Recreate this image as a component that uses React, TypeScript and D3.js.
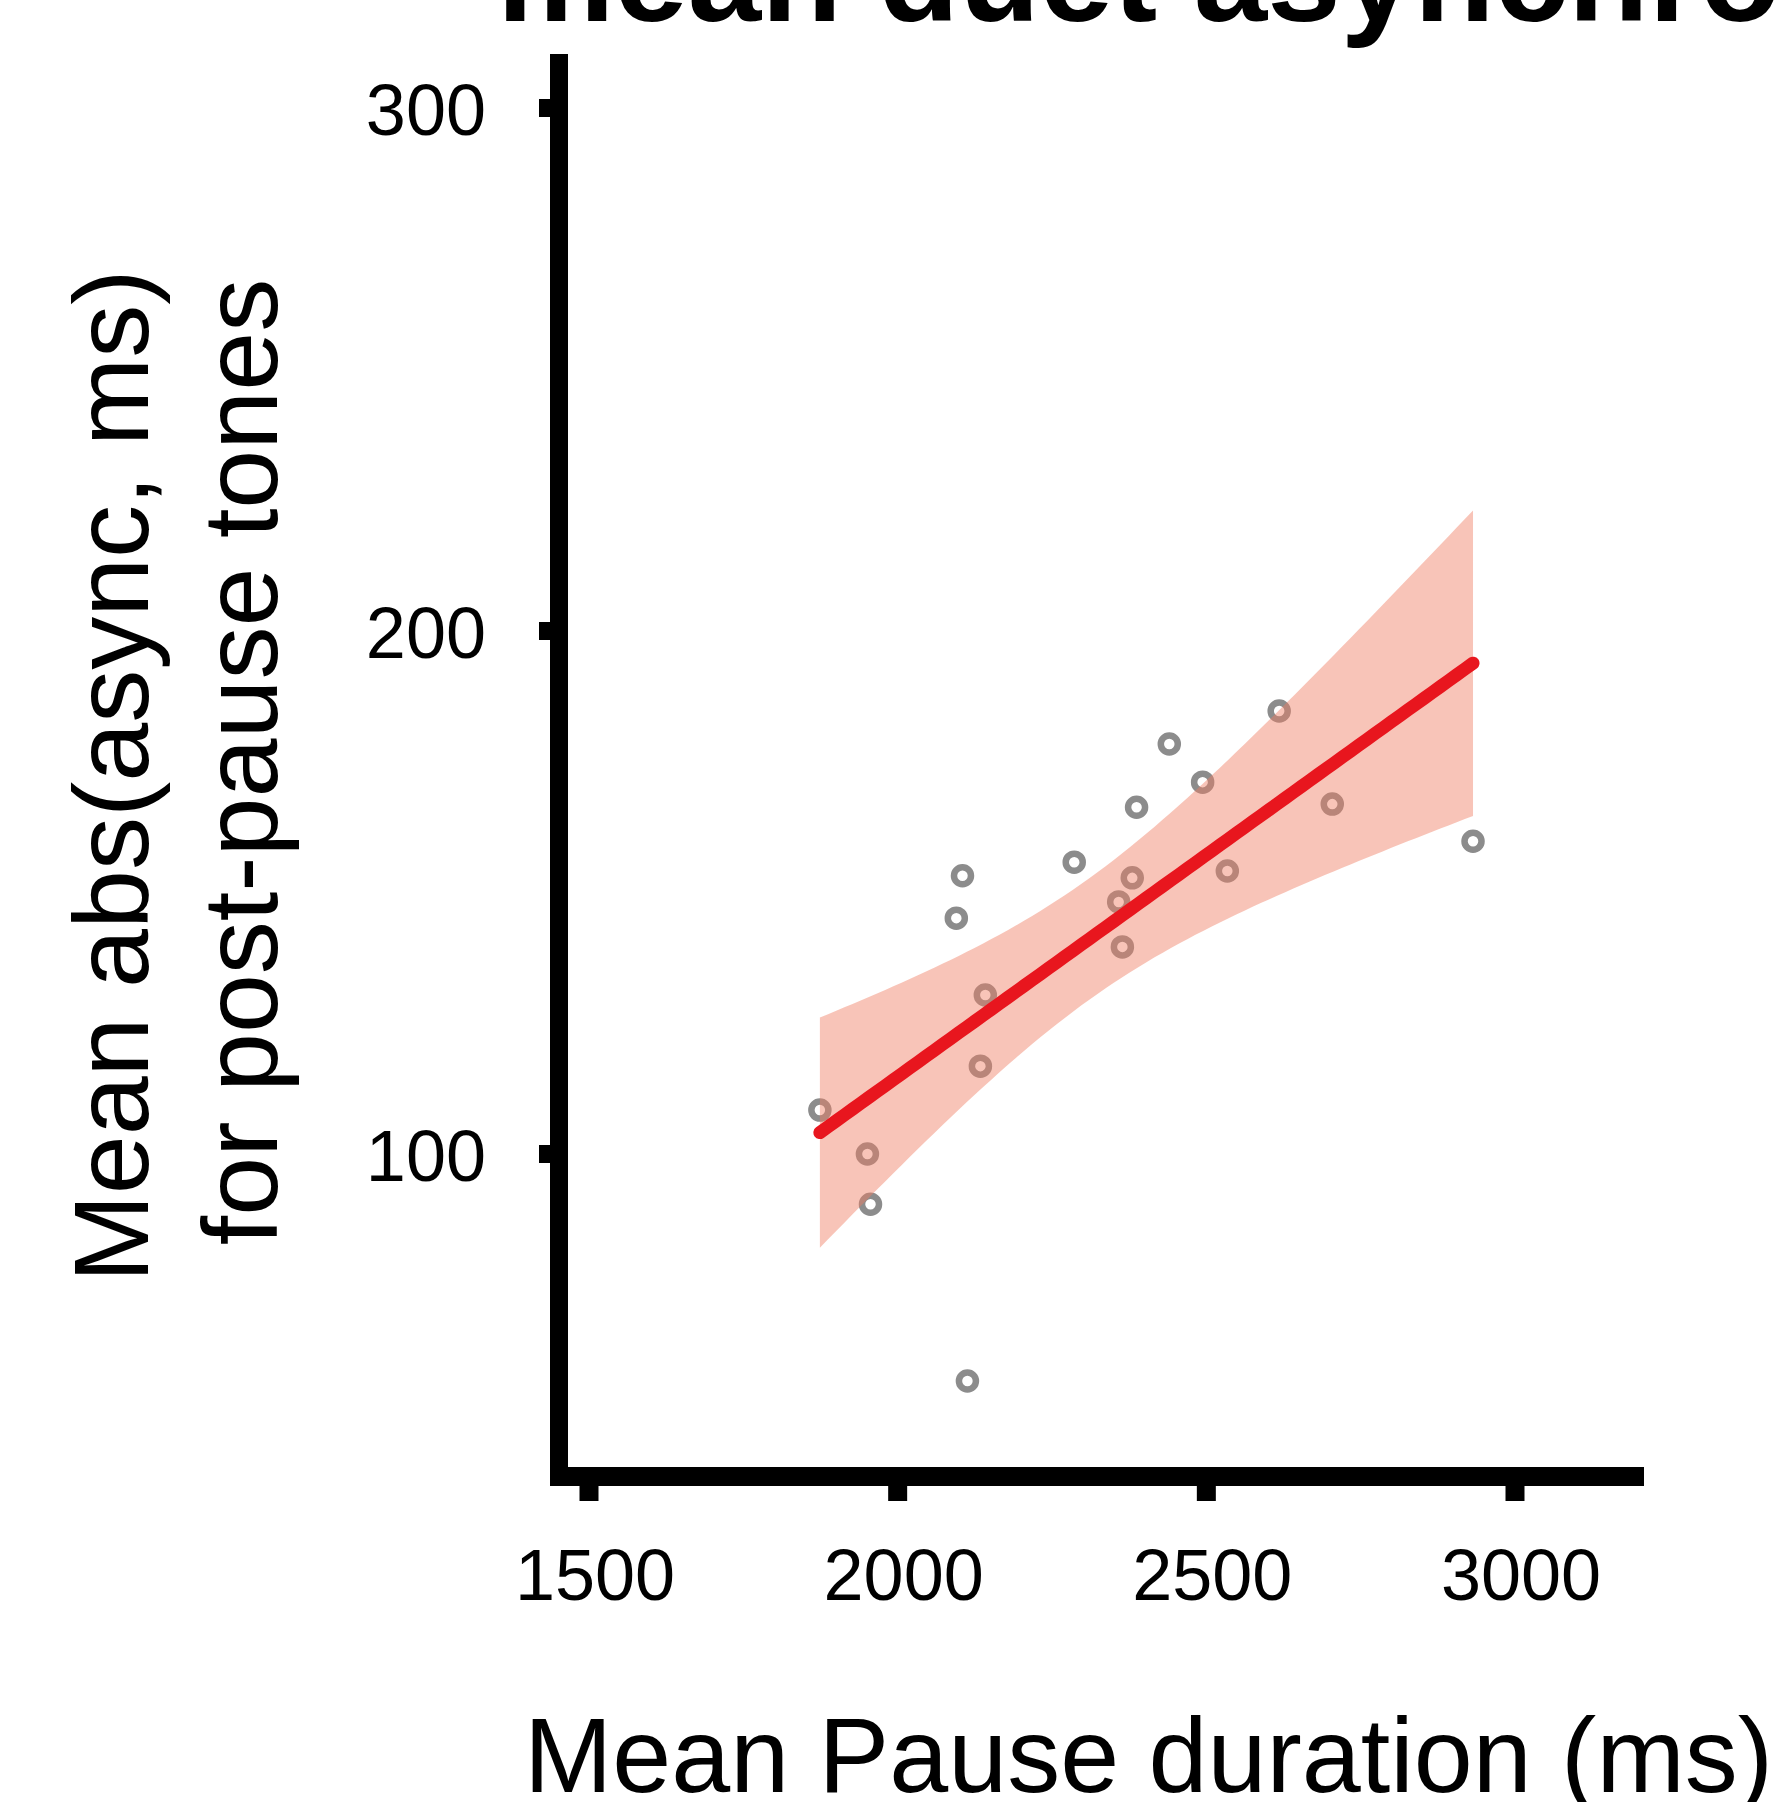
import React from 'react';
import * as d3 from 'd3';

// ---- data ----
const pauseDuration = [1874, 1951, 1956, 2095, 2105, 2134, 2142, 2113, 2286, 2358, 2380, 2364, 2387, 2440, 2494, 2534, 2618, 2704, 2932];
const meanAbsAsync = [108.4, 100.0, 90.4, 145.1, 153.2, 116.8, 130.4, 56.6, 155.8, 148.2, 152.8, 139.6, 166.3, 178.4, 171.1, 154.1, 184.7, 166.9, 159.8];
const xTicks = [1500, 2000, 2500, 3000];
const yTicks = [100, 200, 300];
const titleText = 'mean duet asynchrony';
const xLabel = 'Mean Pause duration (ms)';
const yLabelLines = ['Mean abs(async, ms)', 'for post-pause tones'];

const W = 1776;
const H = 1802;
const FONT = '"Liberation Sans", Arial, Helvetica, sans-serif';

export default function App() {
  const x = d3.scaleLinear().domain([1500, 3000]).range([589, 1515]);
  const y = d3.scaleLinear().domain([100, 300]).range([1154, 108]);

  const xMaxAxis = x.invert(1644);
  const yMaxAxis = y.invert(54);
  const yMinAxis = y.invert(1476);

  // linear fit with 95% confidence band (as geom_smooth(method = "lm"))
  const n = pauseDuration.length;
  const mx = d3.mean(pauseDuration) as number;
  const my = d3.mean(meanAbsAsync) as number;
  let sxx = 0;
  let sxy = 0;
  for (let i = 0; i < n; i++) {
    sxx += (pauseDuration[i] - mx) ** 2;
    sxy += (pauseDuration[i] - mx) * (meanAbsAsync[i] - my);
  }
  const slope = sxy / sxx;
  const intercept = my - slope * mx;
  let ssr = 0;
  for (let i = 0; i < n; i++) {
    ssr += (meanAbsAsync[i] - (intercept + slope * pauseDuration[i])) ** 2;
  }
  const s = Math.sqrt(ssr / (n - 2));
  const tCrit = 2.1098;
  const [x0, x1] = d3.extent(pauseDuration) as [number, number];
  const grid = d3.range(0, 81).map((i) => x0 + ((x1 - x0) * i) / 80);
  const band = grid.map((gx) => {
    const fit = intercept + slope * gx;
    const se = s * Math.sqrt(1 / n + (gx - mx) ** 2 / sxx);
    return { gx, fit, lo: fit - tCrit * se, hi: fit + tCrit * se };
  });

  const area = d3
    .area<{ gx: number; lo: number; hi: number }>()
    .x((d) => x(d.gx))
    .y0((d) => y(d.lo))
    .y1((d) => y(d.hi));
  const line = d3
    .line<{ gx: number; fit: number }>()
    .x((d) => x(d.gx))
    .y((d) => y(d.fit));

  const axisX = 559;
  const axisY = 1476.5;

  return (
    <svg
      width={W}
      height={H}
      viewBox={`0 0 ${W} ${H}`}
      style={{ position: 'absolute', left: 0, top: 0, background: '#fff' }}
      fontFamily={FONT}
    >
      <rect x={0} y={0} width={W} height={H} fill="#ffffff" />

      {/* title (clipped at the top of the figure, as in the reference) */}
      <text x={497} y={21} fontSize={132} fontWeight="bold" fill="#000">
        {titleText}
      </text>

      {/* points */}
      <g>
        {pauseDuration.map((px, i) => (
          <circle
            key={i}
            cx={x(px)}
            cy={y(meanAbsAsync[i])}
            r={8.5}
            fill="none"
            stroke="#8c8c8c"
            strokeWidth={6.5}
          />
        ))}
      </g>

      {/* confidence band */}
      <path d={area(band) || ''} fill="#ef7c61" fillOpacity={0.45} stroke="none" />
      {/* fit line */}
      <path d={line(band) || ''} fill="none" stroke="#e8161e" strokeWidth={13} strokeLinecap="round" />

      {/* y axis */}
      <line x1={axisX} x2={axisX} y1={y(yMaxAxis)} y2={y(yMinAxis) + 10} stroke="#000" strokeWidth={18} />
      {yTicks.map((t) => (
        <g key={t}>
          <line x1={539} x2={axisX} y1={y(t)} y2={y(t)} stroke="#000" strokeWidth={18} />
          <text x={486} y={y(t) + 27} fontSize={72} textAnchor="end" fill="#000">
            {t}
          </text>
        </g>
      ))}

      {/* x axis */}
      <line x1={551} x2={x(xMaxAxis)} y1={axisY} y2={axisY} stroke="#000" strokeWidth={19} />
      {xTicks.map((t) => (
        <g key={t}>
          <line x1={x(t)} x2={x(t)} y1={axisY} y2={1501} stroke="#000" strokeWidth={19} />
          <text x={x(t) + 6} y={1600} fontSize={72} textAnchor="middle" fill="#000">
            {t}
          </text>
        </g>
      ))}

      {/* axis labels */}
      <text x={524} y={1792} fontSize={106} fill="#000">
        {xLabel}
      </text>
      <text transform={`translate(148,776) rotate(-90)`} fontSize={106} textAnchor="middle" fill="#000">
        {yLabelLines[0]}
      </text>
      <text transform={`translate(277,762) rotate(-90)`} fontSize={106} textAnchor="middle" fill="#000">
        {yLabelLines[1]}
      </text>
    </svg>
  );
}
